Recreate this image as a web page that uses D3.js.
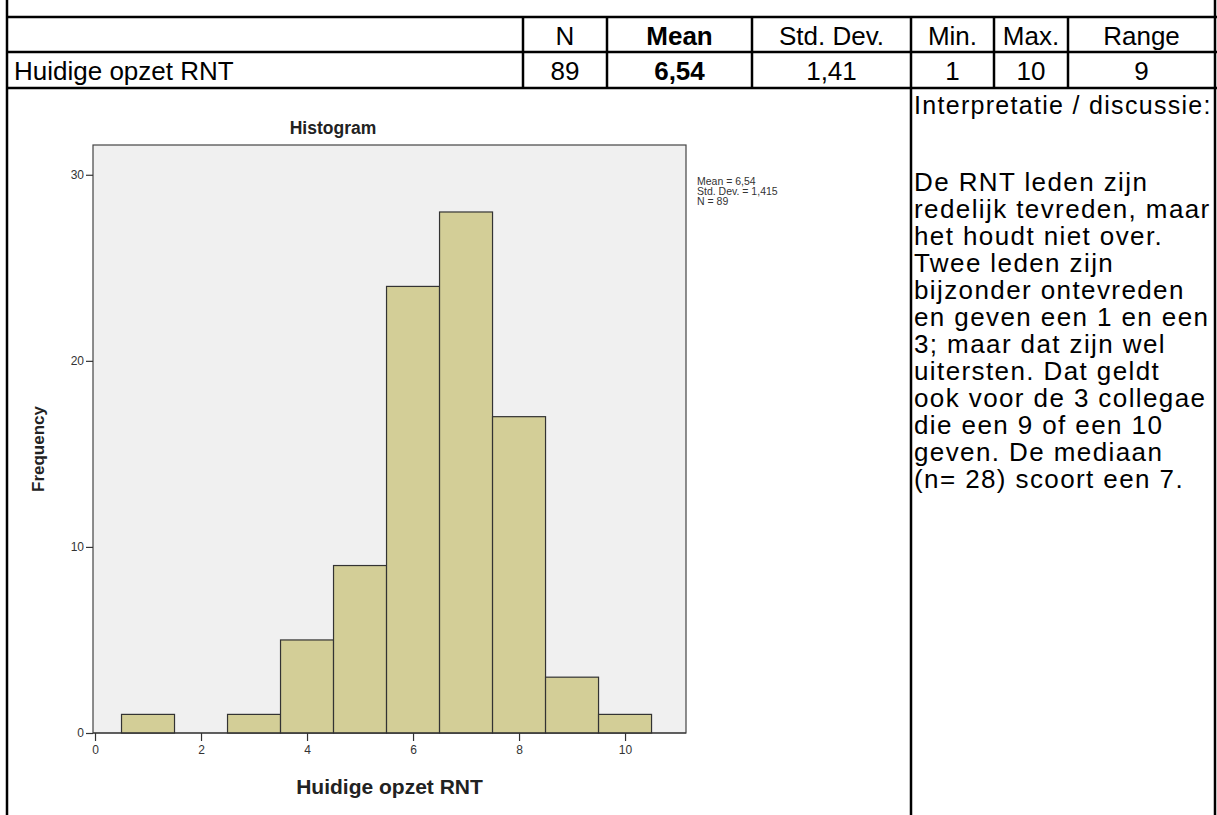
<!DOCTYPE html>
<html>
<head>
<meta charset="utf-8">
<script src="https://cdn.jsdelivr.net/npm/d3@7"></script>
<style>
  body { margin: 0; background: #fff; }
  svg { display: block; font-family: "Liberation Sans", Arial, sans-serif; }
</style>
</head>
<body>
<script>
// histogram data: score (bin centre) and how many people gave it
var scores = [1, 2, 3, 4, 5, 6, 7, 8, 9, 10]
var counts = [1, 0, 1, 5, 9, 24, 28, 17, 3, 1]
var xTicks = [0, 2, 4, 6, 8, 10]
var yTicks = [0, 10, 20, 30]

// the summary table above the chart
var headers = ["", "N", "Mean", "Std. Dev.", "Min.", "Max.", "Range"]
var rowValues = ["Huidige opzet RNT", "89", "6,54", "1,41", "1", "10", "9"]
var boldCol = 2

var statsLines = ["Mean = 6,54", "Std. Dev. = 1,415", "N = 89"]

var discussTitle = "Interpretatie / discussie:"
var discussLines = [
  "De RNT leden zijn",
  "redelijk tevreden, maar",
  "het houdt niet over.",
  "Twee leden zijn",
  "bijzonder ontevreden",
  "en geven een 1 en een",
  "3; maar dat zijn wel",
  "uitersten. Dat geldt",
  "ook voor de 3 collegae",
  "die een 9 of een 10",
  "geven. De mediaan",
  "(n= 28) scoort een 7."
]

var W = 1217, H = 815
var svg = d3.select("body").append("svg").attr("width", W).attr("height", H)

// ---------- table ----------
var colEdges = [7, 523, 607, 752, 911, 994, 1068, 1215]
var rowEdges = [17, 52, 88]
var tableLines = svg.append("g").attr("stroke", "#000").attr("stroke-width", 2.5)

rowEdges.forEach(function (y) {
  tableLines.append("line").attr("x1", 6).attr("x2", W).attr("y1", y).attr("y2", y)
})
colEdges.forEach(function (x, i) {
  // outer borders and the panel divider run the whole height
  var outer = (i == 0 || i == colEdges.length - 1)
  var full = outer || i == 4
  tableLines.append("line").attr("x1", x).attr("x2", x)
    .attr("y1", outer ? 0 : rowEdges[0]).attr("y2", full ? H : rowEdges[2])
})

function cellX(i) { return (colEdges[i] + colEdges[i + 1]) / 2 }

svg.append("g").selectAll("text").data(headers).enter().append("text")
  .attr("x", function (d, i) { return cellX(i) })
  .attr("y", 45)
  .attr("text-anchor", "middle")
  .style("font-size", "26px")
  .style("font-weight", function (d, i) { return i == boldCol ? "bold" : "normal" })
  .text(function (d) { return d })

svg.append("g").selectAll("text").data(rowValues).enter().append("text")
  .attr("x", function (d, i) { return i == 0 ? 14 : cellX(i) })
  .attr("y", 80)
  .attr("text-anchor", function (d, i) { return i == 0 ? "start" : "middle" })
  .style("font-size", "26px")
  .style("font-weight", function (d, i) { return i == boldCol ? "bold" : "normal" })
  .text(function (d) { return d })

// ---------- histogram ----------
var frame = { left: 93, right: 686, top: 145, bottom: 733 }

var x = d3.scaleLinear().domain([-0.038, 11.15]).range([frame.left, frame.right])
var y = d3.scaleLinear().domain([0, 31.6]).range([frame.bottom, frame.top])

var chart = svg.append("g")

chart.append("rect")
  .attr("x", frame.left).attr("y", frame.top)
  .attr("width", frame.right - frame.left).attr("height", frame.bottom - frame.top)
  .style("fill", "#f0f0f0").style("stroke", "#444").style("stroke-width", 1.2)

var bins = scores.map(function (s, i) { return { score: s, count: counts[i] } })
  .filter(function (d) { return d.count > 0 })

chart.append("g").selectAll("rect").data(bins).enter().append("rect")
  .attr("x", function (d) { return x(d.score - 0.5) })
  .attr("y", function (d) { return y(d.count) })
  .attr("width", function (d) { return x(d.score + 0.5) - x(d.score - 0.5) })
  .attr("height", function (d) { return y(0) - y(d.count) })
  .style("fill", "#d3ce97")
  .style("stroke", "#333")
  .style("stroke-width", 1.2)

var xAxis = d3.axisBottom(x).tickValues(xTicks).tickSize(8).tickPadding(4)
var yAxis = d3.axisLeft(y).tickValues(yTicks).tickSize(7).tickPadding(2)

var gx = chart.append("g").attr("transform", "translate(0," + frame.bottom + ")").call(xAxis)
var gy = chart.append("g").attr("transform", "translate(" + frame.left + ",0)").call(yAxis)
;[gx, gy].forEach(function (g) {
  g.select(".domain").remove()
  g.selectAll("line").attr("stroke", "#333").attr("stroke-width", 1.2)
  g.selectAll("text").attr("fill", "#333")
    .style("font-size", "12px").style("font-family", "'Liberation Sans', Arial, sans-serif")
})
gx.append("line").attr("x1", frame.left).attr("x2", frame.right)
  .attr("stroke", "#333").attr("stroke-width", 1.2)

chart.append("text").text("Histogram")
  .attr("x", 333).attr("y", 134)
  .attr("text-anchor", "middle")
  .style("font-size", "17.5px").style("font-weight", "bold").style("fill", "#222")

chart.append("text").text("Frequency")
  .attr("transform", "translate(44,449) rotate(-90)")
  .attr("text-anchor", "middle")
  .style("font-size", "17px").style("font-weight", "bold").style("fill", "#222")

chart.append("text").text("Huidige opzet RNT")
  .attr("x", (frame.left + frame.right) / 2).attr("y", 794)
  .attr("text-anchor", "middle")
  .style("font-size", "21px").style("font-weight", "bold").style("fill", "#222")

chart.append("g").selectAll("text").data(statsLines).enter().append("text")
  .attr("x", 697)
  .attr("y", function (d, i) { return 185 + i * 10 })
  .style("font-size", "10.5px").style("fill", "#333")
  .text(function (d) { return d })

// ---------- discussion panel ----------
svg.append("text").text(discussTitle)
  .attr("x", 914).attr("y", 114)
  .style("font-size", "25px").style("letter-spacing", "1.3px")

svg.append("g").selectAll("text").data(discussLines).enter().append("text")
  .attr("x", 914)
  .attr("y", function (d, i) { return 191 + i * 27 })
  .style("font-size", "26px").style("letter-spacing", "1.4px")
  .text(function (d) { return d })
</script>
</body>
</html>
